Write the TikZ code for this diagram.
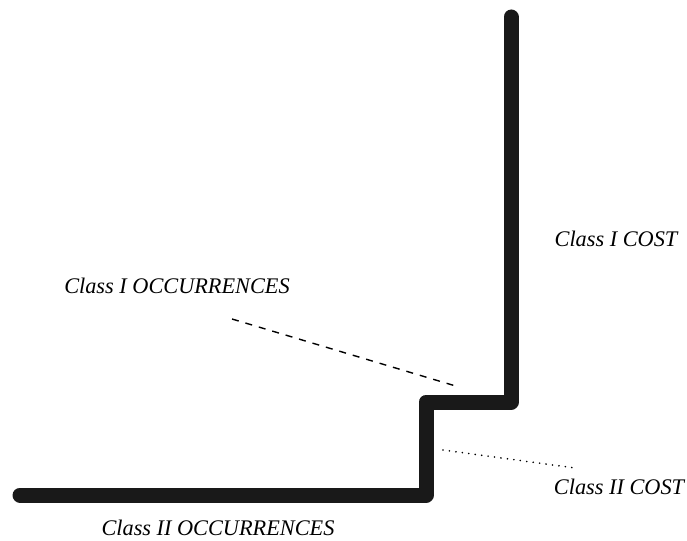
\documentclass[tikz,border=0pt]{standalone}
\usepackage{fontspec}
\setmainfont{Liberation Serif}
\begin{document}
\begin{tikzpicture}[x=1pt,y=-1pt,
  thickline/.style={line width=15pt, line cap=round, line join=round, draw=black!90},
  leaderdash/.style={line width=1.4pt, dash pattern=on 7pt off 7pt},
  leaderdot/.style={line width=1.8pt, line cap=round, dash pattern=on 0pt off 6.5pt},
  lbl/.style={font=\fontsize{22.3}{25}\selectfont\itshape, inner sep=0pt}]
\useasboundingbox (0,0) rectangle (687,540);
\coordinate (p1) at (20,495);
\coordinate (p2) at (426,495);
\coordinate (p3) at (426,402);
\coordinate (p4) at (511,402);
\coordinate (p5) at (511,17);
\draw[thickline] (p1) -- (p2) -- (p3) -- (p4) -- (p5);
\node[lbl] (c1cost) at (616,239) {Class I COST};
\node[lbl] (c1occ) at (177,286) {Class I OCCURRENCES};
\node[lbl] (c2cost) at (619,487) {Class II COST};
\node[lbl] (c2occ) at (218,528) {Class II OCCURRENCES};
\coordinate (d1) at (232,319);
\coordinate (d2) at (459,387);
\draw[leaderdash] (d1) -- (d2);
\coordinate (e1) at (443,450);
\coordinate (e2) at (575,468);
\draw[leaderdot] (e1) -- (e2);
\end{tikzpicture}
\end{document}
